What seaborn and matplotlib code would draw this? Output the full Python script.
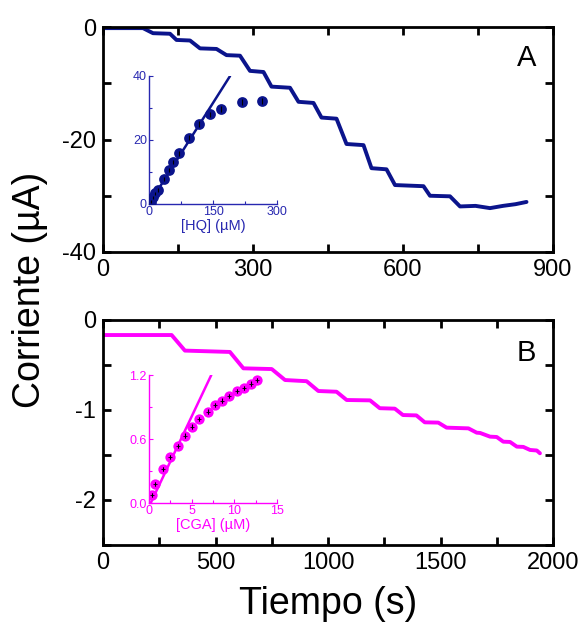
import matplotlib
matplotlib.use("Agg")
import matplotlib.pyplot as plt
from matplotlib.ticker import MultipleLocator
import seaborn as sns
import pandas as pd

# ---------------- data ----------------
# Panel A: chronoamperometric staircase (HQ additions)
time_a = [0, 80, 100, 134, 147, 174, 194, 227, 247, 274, 294, 321, 337, 374,
          391, 421, 437, 467, 487, 521, 537, 567, 584, 641, 654, 694, 714,
          745, 774, 800, 825, 847]
current_a = [-0.2, -0.2, -1.1, -1.2, -2.3, -2.4, -3.8, -3.9, -5.0, -5.1, -7.8,
             -8.0, -10.6, -10.8, -13.3, -13.5, -16.1, -16.3, -20.8, -21.0,
             -25.1, -25.3, -28.1, -28.3, -30.0, -30.1, -31.9, -31.8, -32.2,
             -31.8, -31.5, -31.1]

# Panel B: chronoamperometric staircase (CGA additions)
time_b = [0, 305, 364, 564, 624, 750, 809, 905, 957, 1038, 1083, 1187, 1230,
          1297, 1333, 1393, 1430, 1490, 1527, 1624, 1661, 1676, 1720, 1750,
          1779, 1809, 1839, 1868, 1898, 1928, 1942]
current_b = [-0.167, -0.167, -0.34, -0.355, -0.537, -0.545, -0.667, -0.68,
             -0.789, -0.797, -0.889, -0.893, -0.98, -0.985, -1.056, -1.06,
             -1.137, -1.14, -1.196, -1.204, -1.252, -1.255, -1.296, -1.30,
             -1.352, -1.355, -1.407, -1.41, -1.444, -1.45, -1.481]

# Inset A: calibration [HQ]
hq_conc = [4, 8.6, 14, 22, 34, 47, 57, 70, 94, 118, 143, 168, 217, 266]
hq_current = [0.7, 2.1, 3.3, 4.4, 7.7, 10.6, 13.2, 15.8, 20.7, 25.0, 28.0,
              29.7, 31.8, 32.2]
hq_err = [0.4, 0.4, 0.5, 0.5, 0.6, 0.6, 0.7, 0.7, 0.8, 0.8, 0.9, 0.8, 0.9, 0.9]
hq_fit_x = [0, 190]
hq_fit_y = [0, 40]

# Inset B: calibration [CGA]
cga_conc = [0.31, 0.70, 1.6, 2.46, 3.44, 4.2, 5.08, 5.9, 6.87, 7.73, 8.5,
            9.4, 10.3, 11.1, 11.9, 12.7]
cga_current = [0.078, 0.18, 0.32, 0.43, 0.536, 0.632, 0.716, 0.786, 0.857,
               0.92, 0.96, 1.006, 1.05, 1.08, 1.12, 1.153]
cga_err = [0.02] * 16
cga_fit_x = [0.2, 7.3]
cga_fit_y = [0.0, 1.2]

# ---------------- style ----------------
sns.set_style("ticks")
plt.rcParams['font.family'] = ['Liberation Sans', 'DejaVu Sans']
plt.rcParams['xtick.direction'] = 'in'
plt.rcParams['ytick.direction'] = 'in'
plt.rcParams['axes.unicode_minus'] = False
plt.rcParams['text.color'] = 'black'
plt.rcParams['axes.labelcolor'] = 'black'
plt.rcParams['xtick.color'] = 'black'
plt.rcParams['ytick.color'] = 'black'

navy = "#0b148c"
inset_blue = "#2828b0"
magenta = "#ff00ff"

W, H = 585, 626
fig = plt.figure(figsize=(W / 100, H / 100), dpi=100)

def fr(x0, y0, x1, y1):
    return [x0 / W, 1 - y1 / H, (x1 - x0) / W, (y1 - y0) / H]

axA = fig.add_axes(fr(103, 27, 553, 252))
axB = fig.add_axes(fr(103, 320, 553, 545))

dfA = pd.DataFrame({"t": time_a, "i": current_a})
dfB = pd.DataFrame({"t": time_b, "i": current_b})
sns.lineplot(data=dfA, x="t", y="i", ax=axA, color=navy, lw=2.8,
             estimator=None, sort=False)
sns.lineplot(data=dfB, x="t", y="i", ax=axB, color=magenta, lw=2.8,
             estimator=None, sort=False)

axA.set_xlim(0, 900)
axA.set_ylim(-40, 0)
axA.xaxis.set_major_locator(MultipleLocator(300))
axA.xaxis.set_minor_locator(MultipleLocator(150))
axA.yaxis.set_major_locator(MultipleLocator(20))
axA.yaxis.set_minor_locator(MultipleLocator(10))

axB.set_xlim(0, 2000)
axB.set_ylim(-2.5, 0)
axB.xaxis.set_major_locator(MultipleLocator(500))
axB.xaxis.set_minor_locator(MultipleLocator(250))
axB.yaxis.set_minor_locator(MultipleLocator(0.5))
axB.set_yticks([0, -1, -2])
axB.set_yticklabels(["0", "-1", "-2"])

for ax in (axA, axB):
    ax.set_xlabel("")
    ax.set_ylabel("")
    for s in ax.spines.values():
        s.set_linewidth(2.0)
        s.set_color("black")
    ax.tick_params(which='both', top=True, right=True, width=2.0,
                   labelsize=17, pad=5, colors='black', labelcolor='black')
    ax.tick_params(which='major', length=6)
    ax.tick_params(which='minor', length=6)

axA.text(0.962, 0.86, "A", transform=axA.transAxes, fontsize=21,
         ha="right", va="center")
axB.text(0.962, 0.855, "B", transform=axB.transAxes, fontsize=21,
         ha="right", va="center")

fig.text(30 / W, 1 - 290 / H, "Corriente (µA)", rotation=90, fontsize=27,
         ha="center", va="center")
fig.text(328 / W, 1 - 604 / H, "Tiempo (s)", fontsize=27,
         ha="center", va="center")

# ---------------- insets ----------------
inA = fig.add_axes(fr(149, 76, 277, 204))
inB = fig.add_axes(fr(149, 375, 277, 503))

hqdf = pd.DataFrame({"c": hq_conc, "i": hq_current})
inA.plot(hq_fit_x, hq_fit_y, color=navy, lw=1.8, zorder=2)
sns.scatterplot(data=hqdf, x="c", y="i", ax=inA, color=navy, s=60,
                edgecolor=navy, linewidth=0, zorder=3)
inA.errorbar(hq_conc, hq_current, yerr=hq_err, fmt='none', ecolor='black',
             elinewidth=0.8, zorder=4)
inA.set_xlim(0, 300)
inA.set_ylim(0, 40)
inA.set_xticks([0, 150, 300])
inA.set_yticks([0, 20, 40])
inA.xaxis.set_minor_locator(MultipleLocator(75))
inA.yaxis.set_minor_locator(MultipleLocator(10))
inA.set_xlabel("[HQ] (µM)", color=inset_blue, fontsize=10.5, labelpad=1)
inA.set_ylabel("")

cgadf = pd.DataFrame({"c": cga_conc, "i": cga_current})
inB.plot(cga_fit_x, cga_fit_y, color=magenta, lw=1.8, zorder=2)
sns.scatterplot(data=cgadf, x="c", y="i", ax=inB, color=magenta, s=55,
                edgecolor=magenta, linewidth=0, zorder=3)
inB.errorbar(cga_conc, cga_current, yerr=cga_err, fmt='none', ecolor='black',
             elinewidth=0.8, zorder=4)
inB.scatter(cga_conc, cga_current, marker='+', s=12, color='black',
            linewidths=0.6, zorder=5)
inB.set_xlim(0, 15)
inB.set_ylim(0, 1.2)
inB.set_xticks([0, 5, 10, 15])
inB.set_yticks([0, 0.6, 1.2])
inB.set_yticklabels(["0.0", "0.6", "1.2"])
inB.xaxis.set_minor_locator(MultipleLocator(2.5))
inB.yaxis.set_minor_locator(MultipleLocator(0.3))
inB.set_xlabel("[CGA] (µM)", color=magenta, fontsize=10.5, labelpad=1)
inB.set_ylabel("")

for ax, col in ((inA, inset_blue), (inB, magenta)):
    ax.patch.set_alpha(0)
    ax.spines['top'].set_visible(False)
    ax.spines['right'].set_visible(False)
    for s in ('left', 'bottom'):
        ax.spines[s].set_color(col)
        ax.spines[s].set_linewidth(1.0)
    ax.tick_params(which='both', colors=col, labelcolor=col, labelsize=9,
                   width=0.8, pad=1.5, top=False, right=False)
    ax.tick_params(which='major', length=3)
    ax.tick_params(which='minor', length=2)

fig.savefig("out.png", dpi=100)
